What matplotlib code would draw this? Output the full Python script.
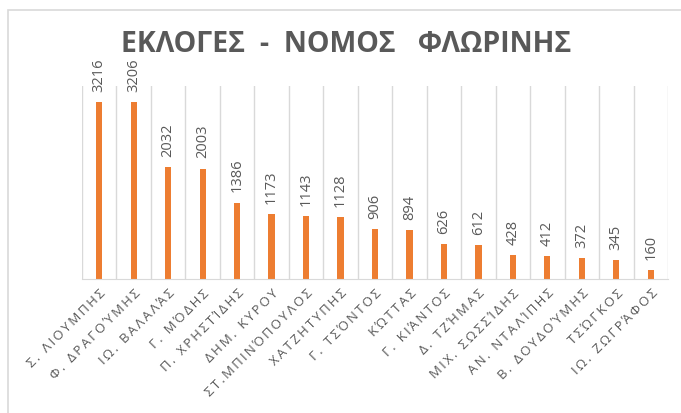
import matplotlib.pyplot as plt
from matplotlib.patches import Rectangle

# Υποψήφιοι και ψήφοι
names = ['Σ. ΛΙΟΥΜΠΗΣ', 'Φ. ΔΡΑΓΟΎΜΗΣ', 'ΙΩ. ΒΑΛΑΛΆΣ', 'Γ. ΜΌΔΗΣ',
         'Π. ΧΡΗΣΤΊΔΗΣ', 'ΔΗΜ. ΚΥΡΟΥ', 'ΣΤ.ΜΠΙΝΌΠΟΥΛΟΣ', 'ΧΑΤΖΗΤΥΠΗΣ',
         'Γ. ΤΣΌΝΤΟΣ', 'ΚΏΤΤΑΣ', 'Γ. ΚΙΆΝΤΟΣ', 'Δ. ΤΖΉΜΑΣ',
         'ΜΙΧ. ΣΩΣΣΊΔΗΣ', 'ΑΝ. ΝΤΑΛΊΠΗΣ', 'Β. ΔΟΥΔΟΎΜΗΣ', 'ΤΣΏΓΚΟΣ',
         'ΙΩ. ΖΩΓΡΆΦΟΣ']
votes = [3216, 3206, 2032, 2003, 1386, 1173, 1143, 1128, 906, 894,
         626, 612, 428, 412, 372, 345, 160]
title = 'ΕΚΛΟΓΕΣ  -  ΝΟΜΟΣ   ΦΛΩΡΙΝΗΣ'

plt.rcParams['font.family'] = ['Open Sans', 'DejaVu Sans']
gray = '#595959'


def spaced(s, sep):
    # imitate the letter spacing of the original chart
    return sep.join(s)


fig = plt.figure(figsize=(6.81, 4.14), dpi=100)
ax = fig.add_axes([82/681, 134/414, 586/681, 193/414])

# outer chart border (only left and top visible in the reference)
fig.patches.append(Rectangle((8/681, -0.1), 1.2, (414-11)/414 + 0.1,
                             transform=fig.transFigure, fill=False,
                             edgecolor='#d9d9d9', linewidth=1.2))

x = list(range(len(names)))
ax.bar(x, votes, width=0.18, color='#ed7d31')

for xi, v in zip(x, votes):
    ax.annotate(str(v), (xi, v), xytext=(0, 8),
                textcoords='offset points', rotation=90, ha='center',
                va='bottom', fontsize=10.5, color=gray)

ax.set_xlim(-0.5, len(names) - 0.5)
ax.set_ylim(0, 3500)
ax.set_yticks([])
ax.set_xticks(x)
ax.set_xticklabels([spaced(n, '\u2009') for n in names], rotation=45,
                   ha='right', rotation_mode='anchor', fontsize=9.5,
                   color=gray)
ax.set_xticks([i - 0.5 for i in range(len(names) + 1)], minor=True)
ax.tick_params(axis='x', which='both', length=0, pad=5)
ax.grid(True, which='minor', axis='x', color='#d9d9d9', linewidth=1)
ax.set_axisbelow(True)
for s in ['left', 'right', 'top']:
    ax.spines[s].set_visible(False)
ax.spines['bottom'].set_color('#d9d9d9')

fig.text(346/681, 1 - 44/414, title,
         ha='center', va='center', fontsize=20.5, fontweight='bold',
         color=gray)

fig.savefig('out.png', dpi=100)
